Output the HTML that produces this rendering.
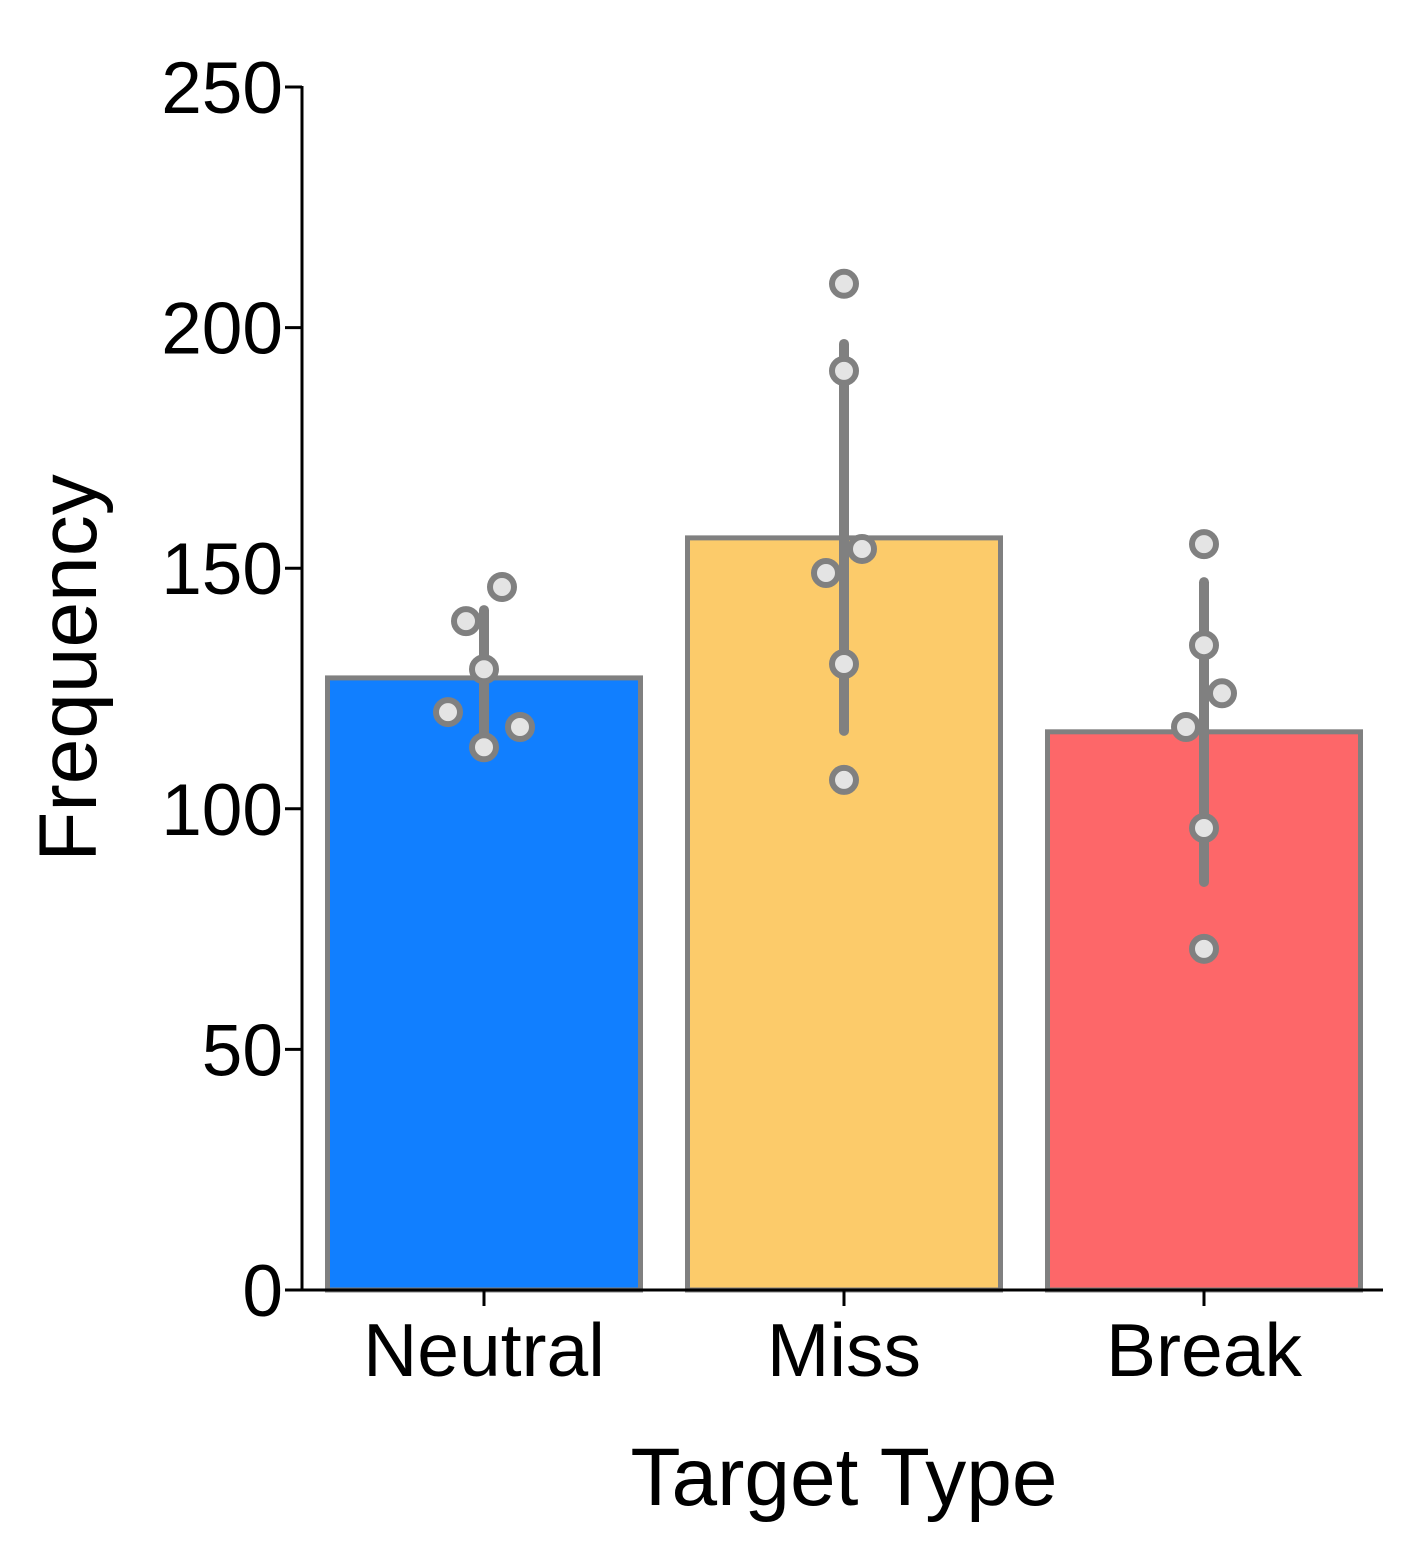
<!DOCTYPE html>
<html><head><meta charset="utf-8"><style>
html,body{margin:0;padding:0;background:#fff;}
svg{display:block;font-family:"Liberation Sans",Arial,sans-serif;}
</style></head><body>
<svg id="chart" width="1405" height="1555" viewBox="0 0 1405 1555" xmlns="http://www.w3.org/2000/svg"></svg>
<script>
const categories = ["Neutral", "Miss", "Break"];
const barValues = [127.2, 156.3, 116.0];
const errHigh = [141.3, 196.6, 147.1];
const errLow = [113.3, 116.2, 84.8];
const pointValues = [
  [139, 146.1, 129, 120.1, 117, 112.8],
  [209.1, 191, 154, 149, 130.1, 106],
  [155, 134, 124, 117, 96, 70.9]
];
const pointOffsets = [
  [-1, 1, 0, -2, 2, 0],
  [0, 0, 1, -1, 0, 0],
  [0, 0, 1, -1, 0, 0]
];
const yTicks = [0, 50, 100, 150, 200, 250];
const barColors = ["#117fff", "#fccb6a", "#fd6769"];

const svg = document.getElementById('chart');
const NS = 'http://www.w3.org/2000/svg';
const y0 = 1290, y250 = 87;
const yScale = v => y0 - (v / 250) * (y0 - y250);
const xCenter = i => 484 + i * 360;
const barW = 313;
function mk(tag, attrs, parent) {
  const e = document.createElementNS(NS, tag);
  for (const k in attrs) e.setAttribute(k, attrs[k]);
  (parent || svg).appendChild(e);
  return e;
}
categories.forEach((c, i) => {
  const r = mk('rect', {x: xCenter(i) - barW/2, y: yScale(barValues[i]), width: barW, height: y0 - yScale(barValues[i]), fill: barColors[i], stroke: '#808080', 'stroke-width': 5});
  
  
});
categories.forEach((c, i) => {
  const l = mk('line', {x1: xCenter(i), x2: xCenter(i), y1: yScale(errHigh[i]), y2: yScale(errLow[i]), stroke: '#808080', 'stroke-width': 10, 'stroke-linecap': 'round'});
  
  
});
categories.forEach((c, i) => {
  pointValues[i].forEach((v, j) => {
    const p = mk('circle', {cx: xCenter(i) + pointOffsets[i][j] * 18, cy: yScale(v), r: 12, fill: '#e4e4e4', stroke: '#808080', 'stroke-width': 6});
    
    
  });
});
const ya = mk('line', {x1: 302, x2: 302, y1: 86, y2: 1291, stroke: '#000', 'stroke-width': 3});


const xa = mk('line', {x1: 301, x2: 1383, y1: 1290, y2: 1290, stroke: '#000', 'stroke-width': 3});


yTicks.forEach(t => {
  const y = yScale(t);
  const tk = mk('line', {x1: 285, x2: 302, y1: y, y2: y, stroke: '#000', 'stroke-width': 3});
  
  
  const tx = mk('text', {x: 283, y: y + 26, 'text-anchor': 'end', 'font-size': 73});
  tx.textContent = t;
  
  
});
categories.forEach((c, i) => {
  const tk = mk('line', {x1: xCenter(i), x2: xCenter(i), y1: 1290, y2: 1306, stroke: '#000', 'stroke-width': 3});
  
  
  const tx = mk('text', {x: xCenter(i), y: 1376, 'text-anchor': 'middle', 'font-size': 75});
  tx.textContent = c;
  
  
});
const xt = mk('text', {x: 844, y: 1505, 'text-anchor': 'middle', 'font-size': 82});
xt.textContent = 'Target Type';


const yt = mk('text', {x: 0, y: 0, 'text-anchor': 'middle', 'font-size': 82, transform: 'translate(96,668) rotate(-90)'});
yt.textContent = 'Frequency';


</script>
</body></html>
